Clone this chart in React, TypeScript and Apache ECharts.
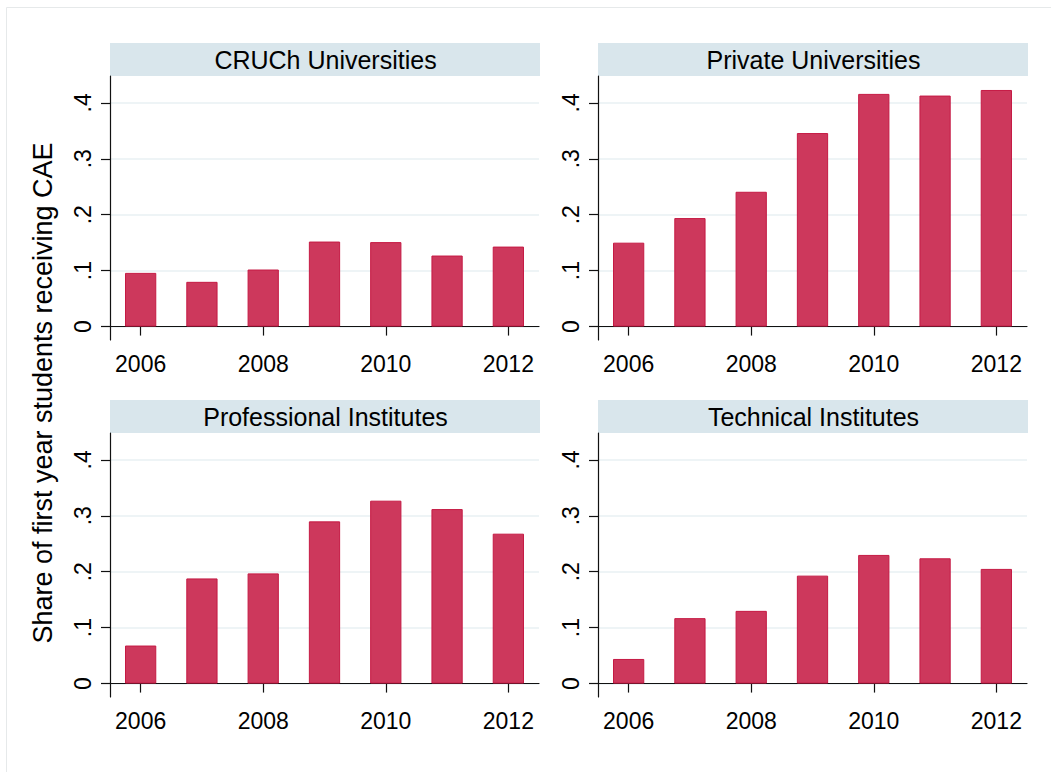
import React, { useEffect, useRef } from "react";
import * as echarts from "echarts";

const years = ["2006", "2007", "2008", "2009", "2010", "2011", "2012"];
const panelTitles = [
  "CRUCh Universities",
  "Private Universities",
  "Professional Institutes",
  "Technical Institutes",
];
const cruchValues = [0.096, 0.080, 0.102, 0.152, 0.151, 0.127, 0.143];
const privateValues = [0.150, 0.194, 0.241, 0.346, 0.416, 0.413, 0.423];
const professionalValues = [0.068, 0.188, 0.197, 0.290, 0.327, 0.312, 0.268];
const technicalValues = [0.044, 0.117, 0.130, 0.193, 0.230, 0.224, 0.205];
const yTickValues = [0, 0.1, 0.2, 0.3, 0.4];
const yTickLabels = ["0", ".1", ".2", ".3", ".4"];
const yAxisTitle = "Share of first year students receiving CAE";

const FONT = "'Liberation Sans', Arial, Helvetica, sans-serif";

export default function App() {
  const ref = useRef<HTMLDivElement>(null);

  useEffect(() => {
    document.body.style.margin = "0";
    if (!ref.current) return;
    const chart = echarts.init(ref.current, undefined, { renderer: "svg" });

    const seriesData = [cruchValues, privateValues, professionalValues, technicalValues];
    const panels = [
      { left: 110, top: 76 },
      { left: 598, top: 76 },
      { left: 110, top: 433 },
      { left: 598, top: 433 },
    ];
    const W = 429;
    const H = 264;
    const stripH = 33;

    const grids = panels.map((p) => ({
      left: p.left,
      top: p.top,
      width: W,
      height: H,
      outerBoundsMode: "none",
      containLabel: false,
    }));

    const xAxes = panels.map((_, i) => ({
      type: "category",
      gridIndex: i,
      data: years,
      boundaryGap: true,
      axisLine: { show: true, lineStyle: { color: "#111", width: 1.2 } },
      axisTick: {
        show: true,
        alignWithLabel: true,
        interval: 1,
        length: 9,
        lineStyle: { color: "#111", width: 1.2 },
      },
      axisLabel: {
        interval: 1,
        fontSize: 23,
        margin: 12,
        color: "#000",
        fontFamily: FONT,
      },
      splitLine: { show: false },
    }));

    const yAxes = panels.map((_, i) => ({
      type: "value",
      gridIndex: i,
      min: -0.024,
      max: 0.448,
      axisLine: { show: true, lineStyle: { color: "#111", width: 1.2 } },
      axisTick: {
        show: true,
        length: 9,
        customValues: yTickValues,
        lineStyle: { color: "#111", width: 1.2 },
      },
      axisLabel: {
        customValues: yTickValues,
        rotate: 90,
        fontSize: 23,
        margin: 16,
        color: "#000",
        fontFamily: FONT,
        formatter: (v: number) => {
          const idx = yTickValues.findIndex((t) => Math.abs(t - v) < 1e-9);
          return idx >= 0 ? yTickLabels[idx] : "";
        },
      },
      splitLine: {
        show: true,
        lineStyle: { color: "#E9F1F3", width: 1.5 },
      },
    }));

    const series = seriesData.map((d, i) => ({
      type: "bar",
      xAxisIndex: i,
      yAxisIndex: i,
      data: d,
      barWidth: "51%",
      itemStyle: {
        color: "#CD385C",
        borderColor: "#C51A44",
        borderWidth: 1,
      },
    }));

    const graphics: any[] = [
      {
        type: "rect",
        shape: { x: 6.5, y: 7.5, width: 1200, height: 900 },
        style: { fill: "none", stroke: "#E6E9EA", lineWidth: 1 },
        silent: true,
      },
    ];
    panels.forEach((p, i) => {
      graphics.push({
        type: "rect",
        shape: { x: p.left, y: p.top - stripH, width: W + 1, height: stripH },
        style: { fill: "#D9E6EC" },
        silent: true,
      });
      graphics.push({
        type: "text",
        x: p.left + W / 2 + 1,
        y: p.top - stripH / 2,
        style: {
          text: panelTitles[i],
          fontSize: 25,
          fontFamily: FONT,
          fill: "#000",
          textAlign: "center",
          textVerticalAlign: "middle",
        },
        silent: true,
      });
    });
    graphics.push({
      type: "text",
      x: 43,
      y: 393,
      rotation: Math.PI / 2,
      style: {
        text: yAxisTitle,
        fontSize: 27,
        fontFamily: FONT,
        fill: "#000",
        textAlign: "center",
        textVerticalAlign: "middle",
      },
      silent: true,
    });

    chart.setOption({
      animation: false,
      backgroundColor: "#fff",
      grid: grids,
      xAxis: xAxes,
      yAxis: yAxes,
      series,
      graphic: graphics,
    } as any);

    return () => {
      chart.dispose();
    };
  }, []);

  return <div ref={ref} style={{ width: 1051, height: 772 }} />;
}
